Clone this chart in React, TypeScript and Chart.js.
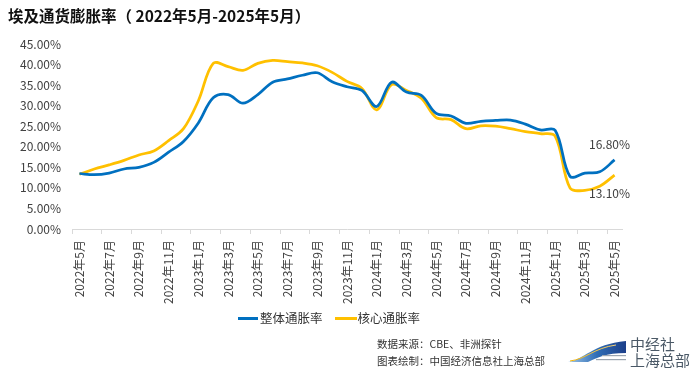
import React, { useEffect, useRef } from "react";
import { Chart, registerables } from "chart.js";

Chart.register(...registerables);

const months = [
  "2022年5月", "2022年6月", "2022年7月", "2022年8月", "2022年9月", "2022年10月", "2022年11月", "2022年12月",
  "2023年1月", "2023年2月", "2023年3月", "2023年4月", "2023年5月", "2023年6月", "2023年7月", "2023年8月",
  "2023年9月", "2023年10月", "2023年11月", "2023年12月",
  "2024年1月", "2024年2月", "2024年3月", "2024年4月", "2024年5月", "2024年6月", "2024年7月", "2024年8月",
  "2024年9月", "2024年10月", "2024年11月", "2024年12月",
  "2025年1月", "2025年2月", "2025年3月", "2025年4月", "2025年5月",
];

const headline = [
  13.5, 13.2, 13.6, 14.6, 15.0, 16.2, 18.7, 21.3,
  25.8, 31.9, 32.7, 30.6, 32.7, 35.7, 36.5, 37.4, 38.0, 35.8, 34.6, 33.7,
  29.8, 35.7, 33.3, 32.5, 28.1, 27.5, 25.7, 26.2, 26.4, 26.5, 25.5, 24.1,
  24.0, 12.8, 13.6, 13.9, 16.8,
];

const core = [
  13.3, 14.6, 15.6, 16.7, 18.0, 19.0, 21.5, 24.4,
  31.2, 40.3, 39.5, 38.6, 40.3, 41.0, 40.7, 40.4, 39.7, 38.1, 35.9, 34.2,
  29.0, 35.1, 33.7, 31.8, 27.1, 26.6, 24.4, 25.1, 25.0, 24.4, 23.7, 23.2,
  22.6, 10.0, 9.4, 10.4, 13.1,
];

const seriesNames = ["整体通胀率", "核心通胀率"];
const yTicks = [0, 5, 10, 15, 20, 25, 30, 35, 40, 45];

const title = "埃及通货膨胀率（ 2022年5月-2025年5月）";
const sourceText = "数据来源：CBE、非洲探针";
const makerText = "图表绘制：中国经济信息社上海总部";

const BLUE = "#0070C0";
const ORANGE = "#FFC000";
const FONT = '"Noto Sans CJK SC", "Noto Sans", sans-serif';

const lastLabelPlugin = {
  id: "lastLabel",
  afterDatasetsDraw(chart: any) {
    const ctx = chart.ctx;
    const offsets = [
      { dx: -5, dy: -15 },
      { dx: -5, dy: 18 },
    ];
    ctx.save();
    ctx.font = `12px ${FONT}`;
    ctx.fillStyle = "#404040";
    ctx.textAlign = "center";
    ctx.textBaseline = "middle";
    chart.data.datasets.forEach((ds: any, i: number) => {
      const meta = chart.getDatasetMeta(i);
      const last = meta.data[meta.data.length - 1];
      const v = ds.data[ds.data.length - 1];
      ctx.fillText(v.toFixed(2) + "%", last.x + offsets[i].dx, last.y + offsets[i].dy);
    });
    ctx.restore();
  },
};

export default function App() {
  const ref = useRef<HTMLCanvasElement>(null);

  useEffect(() => {
    if (!ref.current) return;
    const chart = new Chart(ref.current, {
      type: "line",
      data: {
        labels: months,
        datasets: [
          {
            label: seriesNames[0],
            data: headline,
            borderColor: BLUE,
            backgroundColor: BLUE,
            borderWidth: 2.75,
            pointRadius: 0,
            tension: 0.35,
          },
          {
            label: seriesNames[1],
            data: core,
            borderColor: ORANGE,
            backgroundColor: ORANGE,
            borderWidth: 2.75,
            pointRadius: 0,
            tension: 0.35,
          },
        ],
      },
      options: {
        responsive: false,
        animation: false,
        layout: { padding: { left: 0, top: 44, right: 78, bottom: 0 } },
        plugins: {
          legend: { display: false },
          title: { display: false },
          tooltip: { enabled: false },
        },
        scales: {
          x: {
            type: "category",
            offset: true,
            afterFit: (s: any) => {
              s.height = 149;
            },
            border: { display: true, color: "#d9d9d9", width: 1 },
            grid: {
              display: true,
              offset: true,
              drawOnChartArea: false,
              drawTicks: true,
              tickLength: 5,
              color: (c: any) => (c.index % 2 === 0 ? "#d9d9d9" : "rgba(0,0,0,0)"),
            },
            ticks: {
              autoSkip: false,
              minRotation: 90,
              maxRotation: 90,
              padding: 6,
              color: "#404040",
              font: { family: FONT, size: 12 },
              callback: (_v: any, i: number) => (i % 2 === 0 ? months[i] : ""),
            },
          },
          y: {
            min: 0,
            max: 45,
            afterFit: (s: any) => {
              s.width = 72;
            },
            afterBuildTicks: (s: any) => {
              s.ticks = yTicks.map((v) => ({ value: v }));
            },
            border: { display: false },
            grid: { display: false, drawTicks: false },
            ticks: {
              padding: 11,
              color: "#404040",
              font: { family: FONT, size: 12 },
              callback: (v: any) => Number(v).toFixed(2) + "%",
            },
          },
        },
      },
      plugins: [lastLabelPlugin],
    } as any);
    return () => chart.destroy();
  }, []);

  const abs = (s: React.CSSProperties): React.CSSProperties => ({ position: "absolute", ...s });

  return (
    <div style={{ position: "fixed", left: 0, top: 0, width: 700, height: 378, background: "#fff", overflow: "hidden", fontFamily: FONT }}>
      <canvas ref={ref} width={700} height={378} style={abs({ left: 0, top: 0, width: 700, height: 378 })} />
      <div style={abs({ left: 8, top: 5, fontSize: 15.5, fontWeight: 700, color: "#111", whiteSpace: "nowrap", lineHeight: "20px" })}>{title}</div>
      <div style={abs({ left: 238, top: 309, display: "flex", alignItems: "center", fontSize: 12.5, color: "#333", whiteSpace: "nowrap", lineHeight: "18px" })}>
        <span style={{ display: "inline-block", width: 20, height: 3, background: BLUE, marginRight: 2 }} />
        <span>{seriesNames[0]}</span>
        <span style={{ display: "inline-block", width: 22, height: 3, background: ORANGE, marginLeft: 12, marginRight: 1 }} />
        <span>{seriesNames[1]}</span>
      </div>
      <div style={abs({ left: 377, top: 335, fontSize: 10.5, color: "#333", whiteSpace: "nowrap", lineHeight: "17px" })}>
        <div>{sourceText}</div>
        <div>{makerText}</div>
      </div>
      <svg width={62} height={28} style={abs({ left: 566, top: 338 })}>
        <defs>
          <linearGradient id="lg1" x1="0" y1="0" x2="1" y2="0">
            <stop offset="0" stopColor="#9fc6e8" />
            <stop offset="0.5" stopColor="#2f6db5" />
            <stop offset="1" stopColor="#1c3f8a" />
          </linearGradient>
          <linearGradient id="lg2" x1="0" y1="0" x2="1" y2="0">
            <stop offset="0" stopColor="#f5b400" />
            <stop offset="1" stopColor="#f5d27a" />
          </linearGradient>
        </defs>
        <path d="M2 24 C 18 22, 26 6, 60 3 L 60 15 C 40 15, 30 20, 22 24 Z" fill="url(#lg1)" />
        <path d="M4 23 C 20 21, 28 10, 50 7" stroke="url(#lg2)" strokeWidth={1} fill="none" />
        <rect x={36} y={17} width={24} height={1.2} fill="#9aa5b1" />
        <rect x={30} y={21} width={30} height={1.2} fill="#9aa5b1" />
      </svg>
      <div style={abs({ left: 630, top: 336, fontSize: 15, color: "#4a5866", lineHeight: "16px", whiteSpace: "nowrap", letterSpacing: 0 })}>
        <div>中经社</div>
        <div>上海总部</div>
      </div>
    </div>
  );
}
